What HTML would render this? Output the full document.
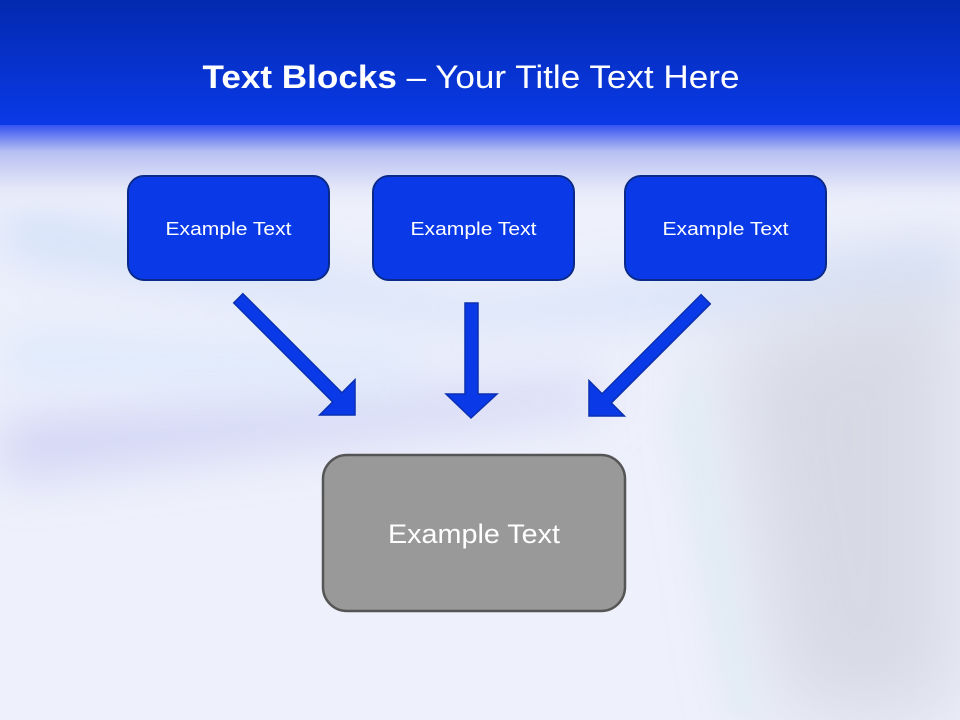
<!DOCTYPE html>
<html><head><meta charset="utf-8"><style>
html,body{margin:0;padding:0;width:960px;height:720px;overflow:hidden}
svg{display:block;overflow:hidden}
</style></head><body>
<svg width="960" height="720" viewBox="0 0 960 720" xmlns="http://www.w3.org/2000/svg">
<defs>
<linearGradient id="top" x1="0" y1="0" x2="0" y2="1">
<stop offset="0" stop-color="#0329b0"/><stop offset="1" stop-color="#0a3ae8"/>
</linearGradient>
<linearGradient id="fade" x1="0" y1="0" x2="0" y2="1">
<stop offset="0" stop-color="#3553f0"/><stop offset="0.3" stop-color="#b8c0f2"/><stop offset="0.7" stop-color="#e4e7f8"/><stop offset="1" stop-color="#eef0fb" stop-opacity="0"/>
</linearGradient>
<filter id="b1" filterUnits="userSpaceOnUse" x="0" y="0" width="960" height="720"><feGaussianBlur stdDeviation="25"/></filter>
<filter id="b3" filterUnits="userSpaceOnUse" x="0" y="0" width="960" height="720"><feGaussianBlur stdDeviation="45"/></filter>
<filter id="b2" filterUnits="userSpaceOnUse" x="0" y="0" width="960" height="720"><feGaussianBlur stdDeviation="12"/></filter>
</defs>
<rect width="960" height="720" fill="#eef0fb"/>
<g opacity="0.7">
<path d="M0 200 L480 300 L960 240 L960 300 L480 330 L0 260Z" fill="#c9dcf8" filter="url(#b1)"/>
<path d="M0 420 L600 380 L600 410 L0 480Z" fill="#c4c8f2" filter="url(#b1)"/>
<path d="M0 330 L420 350 L420 390 L0 380Z" fill="#d5e6fb" filter="url(#b1)"/>
<path d="M720 340 L960 260 L960 720 L780 720 Z" fill="#cdd0dc" filter="url(#b3)"/>
<path d="M700 345 L760 720 L730 720 L670 420Z" fill="#d6eaf0" filter="url(#b2)" opacity="0.6"/>
</g>
<rect x="0" y="0" width="960" height="127" fill="url(#top)"/>
<rect x="0" y="125" width="960" height="90" fill="url(#fade)"/>
<text x="471" y="88" text-anchor="middle" fill="#fff" font-family="Liberation Sans, sans-serif" font-size="32" textLength="537" lengthAdjust="spacingAndGlyphs"><tspan font-weight="bold">Text Blocks</tspan> – Your Title Text Here</text>

<g fill="#0a3ae8" stroke="#0a2a8a" stroke-width="2">
<rect x="128" y="176" width="201" height="104" rx="16"/>
<rect x="373" y="176" width="201" height="104" rx="16"/>
<rect x="625" y="176" width="201" height="104" rx="16"/>
</g>
<g fill="#fff" font-family="Liberation Sans, sans-serif" font-size="18" text-anchor="middle">
<text x="228.5" y="235" textLength="126" lengthAdjust="spacingAndGlyphs">Example Text</text>
<text x="473.5" y="235" textLength="126" lengthAdjust="spacingAndGlyphs">Example Text</text>
<text x="725.5" y="235" textLength="126" lengthAdjust="spacingAndGlyphs">Example Text</text>
</g>

<g fill="#0a3ae8" stroke="#0a2fb0" stroke-width="1.5">
<polygon points="465,303 478,303 478,394 497,394 471,418 446,394 465,394"/>
<g transform="translate(355,415) rotate(45)">
<polygon points="-165,-6.5 -25,-6.5 -25,-25 0,0 -25,25 -25,6.5 -165,6.5"/>
</g>
<g transform="translate(589,416) rotate(135)">
<polygon points="-165,-6.5 -25,-6.5 -25,-25 0,0 -25,25 -25,6.5 -165,6.5"/>
</g>
</g>

<rect x="323" y="455" width="302" height="156" rx="24" fill="#999" stroke="#555" stroke-width="2.5"/>
<text x="474" y="543" text-anchor="middle" fill="#fff" font-family="Liberation Sans, sans-serif" font-size="27" textLength="172" lengthAdjust="spacingAndGlyphs">Example Text</text>
</svg>
</body></html>
